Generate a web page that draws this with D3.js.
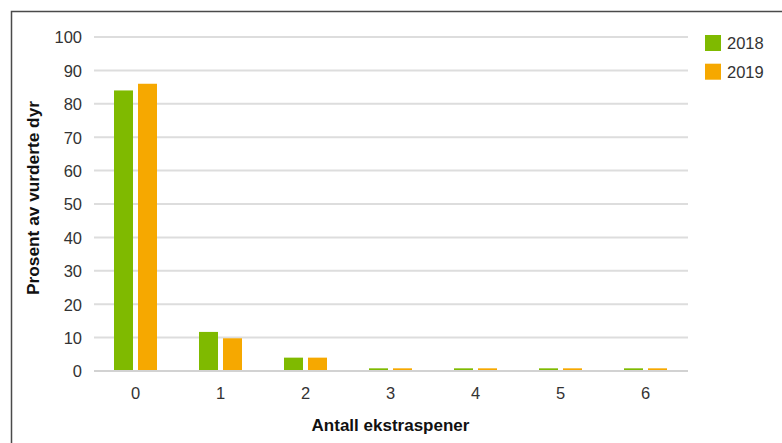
<!DOCTYPE html>
<html>
<head>
<meta charset="utf-8">
<script src="https://cdn.jsdelivr.net/npm/d3@7"></script>
<style>
  html, body { margin: 0; padding: 0; background: #fff; }
  svg { display: block; font-family: "Liberation Sans", Arial, Helvetica, sans-serif; }
</style>
</head>
<body>
<svg id="chart" width="782" height="443"></svg>
<script>
// Andel vurderte dyr etter antall ekstraspener, 2018 og 2019
const categories = ["0", "1", "2", "3", "4", "5", "6"];
const seriesNames = ["2018", "2019"];
const values2018 = [84, 11.7, 4, 0.8, 0.8, 0.8, 0.8];
const values2019 = [86, 9.8, 4, 0.8, 0.8, 0.8, 0.8];
const yTicks = [0, 10, 20, 30, 40, 50, 60, 70, 80, 90, 100];
const colors = ["#7fba00", "#f6a800"];
const yTitle = "Prosent av vurderte dyr";
const xTitle = "Antall ekstraspener";

const seriesValues = [values2018, values2019];
const rows = categories.map((c, i) => ({
  cat: c,
  vals: seriesNames.map((s, j) => ({ key: s, value: seriesValues[j][i] }))
}));

const svg = d3.select("#chart");
const margin = { left: 93, right: 94, top: 37, bottom: 72 };
const W = 782, H = 443;

// Outer frame
svg.append("rect")
  .attr("x", 11.5).attr("y", 11.5)
  .attr("width", 900).attr("height", 600)
  .attr("fill", "none").attr("stroke", "#4a4a4a").attr("stroke-width", 1.5);

const x0 = d3.scaleBand().domain(categories)
  .range([margin.left, W - margin.right]).paddingInner(0).paddingOuter(0);
const groupW = 43;
const x1 = d3.scaleBand().domain(seriesNames)
  .range([(x0.bandwidth() - groupW) / 2, (x0.bandwidth() + groupW) / 2])
  .paddingInner(0.208);
const y = d3.scaleLinear().domain([0, 100]).range([H - margin.bottom, margin.top]);

// Horizontal gridlines
svg.append("g").selectAll("line").data(yTicks).join("line")
  .attr("x1", margin.left + 1).attr("x2", W - margin.right)
  .attr("y1", d => y(d)).attr("y2", d => y(d))
  .attr("stroke", d => d === 0 ? "#d2d2d2" : "#dddddd")
  .attr("stroke-width", 2);

// Y axis labels
const yAxis = d3.axisLeft(y).tickValues(yTicks).tickSize(0).tickPadding(0);
const gy = svg.append("g").attr("transform", `translate(${margin.left - 11},0)`).call(yAxis);
gy.select(".domain").remove();
gy.selectAll("text").attr("font-size", 16.5).attr("fill", "#333").attr("dy", "0.36em")
  .attr("font-family", "'Liberation Sans', Arial, sans-serif");

// X axis labels
const xAxis = d3.axisBottom(x0).tickSize(0).tickPadding(0);
const gx = svg.append("g").attr("transform", `translate(0,${y(0) + 16})`).call(xAxis);
gx.select(".domain").remove();
gx.selectAll("text").attr("font-size", 16.5).attr("fill", "#333").attr("dy", "0.71em")
  .attr("font-family", "'Liberation Sans', Arial, sans-serif");

// Bars, resting on top of the zero line
const groups = svg.append("g").selectAll("g").data(rows).join("g")
  .attr("transform", d => `translate(${x0(d.cat)},0)`);
groups.selectAll("rect").data(d => d.vals).join("rect")
  .attr("x", d => x1(d.key))
  .attr("width", x1.bandwidth())
  .attr("y", d => y(d.value))
  .attr("height", d => Math.max(0, y(0) - 1 - y(d.value)))
  .attr("fill", (d, i) => colors[i]);

// Axis titles
svg.append("text")
  .attr("transform", `translate(39,${(y(0) + y(100)) / 2 - 6}) rotate(-90)`)
  .attr("text-anchor", "middle")
  .attr("font-size", 17.3).attr("font-weight", "bold").attr("fill", "#111")
  .text(yTitle);
svg.append("text")
  .attr("x", (margin.left + W - margin.right) / 2).attr("y", 431)
  .attr("text-anchor", "middle")
  .attr("font-size", 17).attr("font-weight", "bold").attr("fill", "#111")
  .text(xTitle);

// Legend
const legend = svg.append("g").attr("transform", "translate(705,35)");
const li = legend.selectAll("g").data(seriesNames).join("g")
  .attr("transform", (d, i) => `translate(0,${i * 28.7})`);
li.append("rect").attr("width", 16).attr("height", 16).attr("fill", (d, i) => colors[i]);
li.append("text").attr("x", 22).attr("y", 8).attr("dy", "0.36em")
  .attr("font-size", 16.5).attr("fill", "#333").text(d => d);
</script>
</body>
</html>
